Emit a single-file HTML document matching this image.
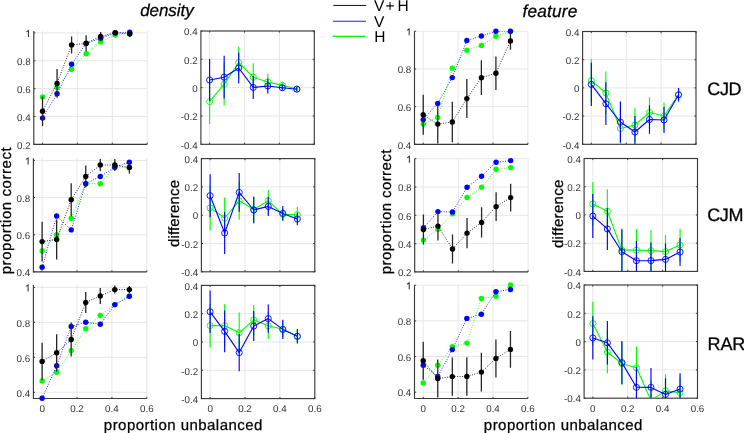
<!DOCTYPE html>
<html><head><meta charset="utf-8"><style>
html,body{margin:0;padding:0;background:#fff;}
svg{display:block;}
text{font-family:"Liberation Sans",sans-serif;text-rendering:geometricPrecision;}
svg{will-change:transform;}
.gr{stroke:#e6e6e6;stroke-width:1;}
.ax{stroke:#3a3a3a;stroke-width:1.15;fill:none;}
.tk{stroke:#3a3a3a;stroke-width:1;fill:none;}
.tl{font-size:9.8px;fill:#333;}
.lb{fill:#000;stroke:#000;stroke-width:0.25;}
.tt{fill:#000;font-style:italic;stroke:#000;stroke-width:0.25;}
.rl{fill:#000;stroke:#000;stroke-width:0.3;}
.one{fill:none;stroke:#333;stroke-width:1.05;stroke-linejoin:miter;}
.lg{font-size:15.5px;fill:#000;}
.dl{fill:none;stroke-width:0.9;stroke-dasharray:0.9 1.6;}
.eb{fill:none;stroke-width:1.3;}
.eb2{fill:none;stroke-width:1.15;}
.sl{fill:none;stroke-width:1.1;stroke-linejoin:round;}
.oc{stroke-width:0.9;}
</style></head>
<body><svg width="744" height="433" viewBox="0 0 744 433">
<defs><clipPath id="cC1R1"><rect x="33.8" y="31" width="113.4" height="113.3"/></clipPath><clipPath id="cC1R2"><rect x="33.4" y="158.3" width="113.4" height="113.6"/></clipPath><clipPath id="cC1R3"><rect x="33.4" y="285.1" width="113.4" height="113.4"/></clipPath><clipPath id="cC3R1"><rect x="414.5" y="31.3" width="113.4" height="113"/></clipPath><clipPath id="cC3R2"><rect x="414.7" y="158.7" width="113.4" height="113.2"/></clipPath><clipPath id="cC3R3"><rect x="414.5" y="285.2" width="113.4" height="113.3"/></clipPath><clipPath id="cC2R1"><rect x="200.9" y="31" width="113.4" height="113.3"/></clipPath><clipPath id="cC2R2"><rect x="201.4" y="158.6" width="113.4" height="113.2"/></clipPath><clipPath id="cC2R3"><rect x="201.4" y="285.4" width="113.4" height="113.2"/></clipPath><clipPath id="cC4R1"><rect x="582.6" y="31.5" width="113.4" height="112.8"/></clipPath><clipPath id="cC4R2"><rect x="584.1" y="158.5" width="113.4" height="112.9"/></clipPath><clipPath id="cC4R3"><rect x="584.1" y="285" width="113.4" height="113.2"/></clipPath></defs>
<rect width="744" height="433" fill="#fff"/>
<line x1="42.52" y1="31" x2="42.52" y2="144.3" class="gr"/>
<line x1="77.41" y1="31" x2="77.41" y2="144.3" class="gr"/>
<line x1="112.31" y1="31" x2="112.31" y2="144.3" class="gr"/>
<line x1="147.2" y1="31" x2="147.2" y2="144.3" class="gr"/>
<line x1="33.8" y1="144.3" x2="147.2" y2="144.3" class="gr"/>
<line x1="33.8" y1="116.45" x2="147.2" y2="116.45" class="gr"/>
<line x1="33.8" y1="88.6" x2="147.2" y2="88.6" class="gr"/>
<line x1="33.8" y1="60.75" x2="147.2" y2="60.75" class="gr"/>
<line x1="33.8" y1="32.9" x2="147.2" y2="32.9" class="gr"/>
<path d="M33.8 31V144.3H147.2" class="ax"/>
<path d="M33.8 144.3h1.6M33.8 116.45h1.6M33.8 88.6h1.6M33.8 60.75h1.6M33.8 32.9h1.6M42.52 144.3v-1.6M77.41 144.3v-1.6M112.31 144.3v-1.6M147.2 144.3v-1.6" class="tk"/>
<text x="30.6" y="148.5" class="tl" text-anchor="end">0.2</text>
<text x="30.6" y="120.65" class="tl" text-anchor="end">0.4</text>
<text x="30.6" y="92.8" class="tl" text-anchor="end">0.6</text>
<text x="30.6" y="64.95" class="tl" text-anchor="end">0.8</text>
<path d="M26.4 31.9L28.5 30.5V36.9" class="one"/>
<g clip-path="url(#cC1R1)"><polyline points="42.52,97 57.06,87.3 71.6,69.3 86.14,53.7 100.68,41.7 115.21,35 129.75,33.5" class="dl" stroke="#00ff00"/>
</g>
<circle cx="42.52" cy="97" r="2.7" fill="#00ff00"/>
<circle cx="57.06" cy="87.3" r="2.7" fill="#00ff00"/>
<circle cx="71.6" cy="69.3" r="2.7" fill="#00ff00"/>
<circle cx="86.14" cy="53.7" r="2.7" fill="#00ff00"/>
<circle cx="100.68" cy="41.7" r="2.7" fill="#00ff00"/>
<circle cx="115.21" cy="35" r="2.7" fill="#00ff00"/>
<circle cx="129.75" cy="33.5" r="2.7" fill="#00ff00"/>
<g clip-path="url(#cC1R1)"><polyline points="42.52,118.1 57.06,93.8 71.6,64.3 86.14,43.6 100.68,38.2 115.21,32.9 129.75,32.2" class="dl" stroke="#0000ff"/>
</g>
<circle cx="42.52" cy="118.1" r="2.7" fill="#0000ff"/>
<circle cx="57.06" cy="93.8" r="2.7" fill="#0000ff"/>
<circle cx="71.6" cy="64.3" r="2.7" fill="#0000ff"/>
<circle cx="86.14" cy="43.6" r="2.7" fill="#0000ff"/>
<circle cx="100.68" cy="38.2" r="2.7" fill="#0000ff"/>
<circle cx="115.21" cy="32.9" r="2.7" fill="#0000ff"/>
<circle cx="129.75" cy="32.2" r="2.7" fill="#0000ff"/>
<g clip-path="url(#cC1R1)"><polyline points="42.52,111.2 57.06,83.4 71.6,44.9 86.14,43.3 100.68,36.4 115.21,32.7 129.75,34" class="dl" stroke="#000000"/>
<path d="M42.52 96.4V126M57.06 69.1V97.7M71.6 36.4V53.4M86.14 35.3V51.3M100.68 32.1V40.7M115.21 31.2V34.2M129.75 31.2V36.8" class="eb" stroke="#262626"/>
</g>
<circle cx="42.52" cy="111.2" r="2.7" fill="#000000"/>
<circle cx="57.06" cy="83.4" r="2.7" fill="#000000"/>
<circle cx="71.6" cy="44.9" r="2.7" fill="#000000"/>
<circle cx="86.14" cy="43.3" r="2.7" fill="#000000"/>
<circle cx="100.68" cy="36.4" r="2.7" fill="#000000"/>
<circle cx="115.21" cy="32.7" r="2.7" fill="#000000"/>
<circle cx="129.75" cy="34" r="2.7" fill="#000000"/>
<line x1="42.12" y1="158.3" x2="42.12" y2="271.9" class="gr"/>
<line x1="77.02" y1="158.3" x2="77.02" y2="271.9" class="gr"/>
<line x1="111.91" y1="158.3" x2="111.91" y2="271.9" class="gr"/>
<line x1="146.8" y1="158.3" x2="146.8" y2="271.9" class="gr"/>
<line x1="33.4" y1="271.9" x2="146.8" y2="271.9" class="gr"/>
<line x1="33.4" y1="234.73" x2="146.8" y2="234.73" class="gr"/>
<line x1="33.4" y1="197.57" x2="146.8" y2="197.57" class="gr"/>
<line x1="33.4" y1="160.4" x2="146.8" y2="160.4" class="gr"/>
<path d="M33.4 158.3V271.9H146.8" class="ax"/>
<path d="M33.4 271.9h1.6M33.4 234.73h1.6M33.4 197.57h1.6M33.4 160.4h1.6M42.12 271.9v-1.6M77.02 271.9v-1.6M111.91 271.9v-1.6M146.8 271.9v-1.6" class="tk"/>
<text x="30.2" y="276.1" class="tl" text-anchor="end">0.4</text>
<text x="30.2" y="238.93" class="tl" text-anchor="end">0.6</text>
<text x="30.2" y="201.77" class="tl" text-anchor="end">0.8</text>
<path d="M26 159.4L28.1 158V164.4" class="one"/>
<g clip-path="url(#cC1R2)"><polyline points="42.12,251 56.66,234.7 71.2,218.3 85.74,183.7 100.28,183.7 114.81,167 129.35,167.5" class="dl" stroke="#00ff00"/>
</g>
<circle cx="42.12" cy="251" r="2.7" fill="#00ff00"/>
<circle cx="56.66" cy="234.7" r="2.7" fill="#00ff00"/>
<circle cx="71.2" cy="218.3" r="2.7" fill="#00ff00"/>
<circle cx="85.74" cy="183.7" r="2.7" fill="#00ff00"/>
<circle cx="100.28" cy="183.7" r="2.7" fill="#00ff00"/>
<circle cx="114.81" cy="167" r="2.7" fill="#00ff00"/>
<circle cx="129.35" cy="167.5" r="2.7" fill="#00ff00"/>
<g clip-path="url(#cC1R2)"><polyline points="42.12,267.3 56.66,216 71.2,229.9 85.74,183.7 100.28,176.5 114.81,167.2 129.35,162.2" class="dl" stroke="#0000ff"/>
</g>
<circle cx="42.12" cy="267.3" r="2.7" fill="#0000ff"/>
<circle cx="56.66" cy="216" r="2.7" fill="#0000ff"/>
<circle cx="71.2" cy="229.9" r="2.7" fill="#0000ff"/>
<circle cx="85.74" cy="183.7" r="2.7" fill="#0000ff"/>
<circle cx="100.28" cy="176.5" r="2.7" fill="#0000ff"/>
<circle cx="114.81" cy="167.2" r="2.7" fill="#0000ff"/>
<circle cx="129.35" cy="162.2" r="2.7" fill="#0000ff"/>
<g clip-path="url(#cC1R2)"><polyline points="42.12,241.6 56.66,239.5 71.2,199.8 85.74,176.5 100.28,165 114.81,165 129.35,167.5" class="dl" stroke="#000000"/>
<path d="M42.12 221.7V261.5M56.66 219.5V259.5M71.2 183.3V216.3M85.74 165.5V187.5M100.28 159V171M114.81 159.1V170.9M129.35 161.5V173.5" class="eb" stroke="#262626"/>
</g>
<circle cx="42.12" cy="241.6" r="2.7" fill="#000000"/>
<circle cx="56.66" cy="239.5" r="2.7" fill="#000000"/>
<circle cx="71.2" cy="199.8" r="2.7" fill="#000000"/>
<circle cx="85.74" cy="176.5" r="2.7" fill="#000000"/>
<circle cx="100.28" cy="165" r="2.7" fill="#000000"/>
<circle cx="114.81" cy="165" r="2.7" fill="#000000"/>
<circle cx="129.35" cy="167.5" r="2.7" fill="#000000"/>
<line x1="42.12" y1="285.1" x2="42.12" y2="398.5" class="gr"/>
<line x1="77.02" y1="285.1" x2="77.02" y2="398.5" class="gr"/>
<line x1="111.91" y1="285.1" x2="111.91" y2="398.5" class="gr"/>
<line x1="146.8" y1="285.1" x2="146.8" y2="398.5" class="gr"/>
<line x1="33.4" y1="392.3" x2="146.8" y2="392.3" class="gr"/>
<line x1="33.4" y1="357.33" x2="146.8" y2="357.33" class="gr"/>
<line x1="33.4" y1="322.37" x2="146.8" y2="322.37" class="gr"/>
<line x1="33.4" y1="287.4" x2="146.8" y2="287.4" class="gr"/>
<path d="M33.4 285.1V398.5H146.8" class="ax"/>
<path d="M33.4 392.3h1.6M33.4 357.33h1.6M33.4 322.37h1.6M33.4 287.4h1.6M42.12 398.5v-1.6M77.02 398.5v-1.6M111.91 398.5v-1.6M146.8 398.5v-1.6" class="tk"/>
<text x="30.2" y="396.5" class="tl" text-anchor="end">0.4</text>
<text x="30.2" y="361.53" class="tl" text-anchor="end">0.6</text>
<text x="30.2" y="326.57" class="tl" text-anchor="end">0.8</text>
<path d="M26 286.4L28.1 285V291.4" class="one"/>
<text x="42.12" y="411.8" class="tl" text-anchor="middle">0</text>
<text x="77.02" y="411.8" class="tl" text-anchor="middle">0.2</text>
<text x="111.91" y="411.8" class="tl" text-anchor="middle">0.4</text>
<text x="146.8" y="411.8" class="tl" text-anchor="middle">0.6</text>
<g clip-path="url(#cC1R3)"><polyline points="42.12,381 56.66,372.3 71.2,350.6 85.74,328.7 100.28,315.5 114.81,304.7 129.35,296.3" class="dl" stroke="#00ff00"/>
</g>
<circle cx="42.12" cy="381" r="2.7" fill="#00ff00"/>
<circle cx="56.66" cy="372.3" r="2.7" fill="#00ff00"/>
<circle cx="71.2" cy="350.6" r="2.7" fill="#00ff00"/>
<circle cx="85.74" cy="328.7" r="2.7" fill="#00ff00"/>
<circle cx="100.28" cy="315.5" r="2.7" fill="#00ff00"/>
<circle cx="114.81" cy="304.7" r="2.7" fill="#00ff00"/>
<circle cx="129.35" cy="296.3" r="2.7" fill="#00ff00"/>
<g clip-path="url(#cC1R3)"><polyline points="42.12,398.3 56.66,365.8 71.2,326.5 85.74,322.2 100.28,324.3 114.81,304.6 129.35,296.3" class="dl" stroke="#0000ff"/>
</g>
<circle cx="42.12" cy="398.3" r="2.7" fill="#0000ff"/>
<circle cx="56.66" cy="365.8" r="2.7" fill="#0000ff"/>
<circle cx="71.2" cy="326.5" r="2.7" fill="#0000ff"/>
<circle cx="85.74" cy="322.2" r="2.7" fill="#0000ff"/>
<circle cx="100.28" cy="324.3" r="2.7" fill="#0000ff"/>
<circle cx="114.81" cy="304.6" r="2.7" fill="#0000ff"/>
<circle cx="129.35" cy="296.3" r="2.7" fill="#0000ff"/>
<g clip-path="url(#cC1R3)"><polyline points="42.12,361.4 56.66,352.8 71.2,339.5 85.74,302.5 100.28,295.9 114.81,289.6 129.35,289.6" class="dl" stroke="#000000"/>
<path d="M42.12 342.7V380.1M56.66 334.2V371.4M71.2 322.5V356.5M85.74 291.9V313.1M100.28 287.9V303.9M114.81 285.6V293.6M129.35 286.1V293.1" class="eb" stroke="#262626"/>
</g>
<circle cx="42.12" cy="361.4" r="2.7" fill="#000000"/>
<circle cx="56.66" cy="352.8" r="2.7" fill="#000000"/>
<circle cx="71.2" cy="339.5" r="2.7" fill="#000000"/>
<circle cx="85.74" cy="302.5" r="2.7" fill="#000000"/>
<circle cx="100.28" cy="295.9" r="2.7" fill="#000000"/>
<circle cx="114.81" cy="289.6" r="2.7" fill="#000000"/>
<circle cx="129.35" cy="289.6" r="2.7" fill="#000000"/>
<line x1="423.22" y1="31.3" x2="423.22" y2="144.3" class="gr"/>
<line x1="458.12" y1="31.3" x2="458.12" y2="144.3" class="gr"/>
<line x1="493.01" y1="31.3" x2="493.01" y2="144.3" class="gr"/>
<line x1="527.9" y1="31.3" x2="527.9" y2="144.3" class="gr"/>
<line x1="414.5" y1="144.3" x2="527.9" y2="144.3" class="gr"/>
<line x1="414.5" y1="106.63" x2="527.9" y2="106.63" class="gr"/>
<line x1="414.5" y1="68.97" x2="527.9" y2="68.97" class="gr"/>
<line x1="414.5" y1="31.3" x2="527.9" y2="31.3" class="gr"/>
<path d="M414.5 31.3V144.3H527.9" class="ax"/>
<path d="M414.5 144.3h1.6M414.5 106.63h1.6M414.5 68.97h1.6M414.5 31.3h1.6M423.22 144.3v-1.6M458.12 144.3v-1.6M493.01 144.3v-1.6M527.9 144.3v-1.6" class="tk"/>
<text x="411.3" y="148.5" class="tl" text-anchor="end">0.4</text>
<text x="411.3" y="110.83" class="tl" text-anchor="end">0.6</text>
<text x="411.3" y="73.17" class="tl" text-anchor="end">0.8</text>
<path d="M407.1 30.3L409.2 28.9V35.3" class="one"/>
<g clip-path="url(#cC3R1)"><polyline points="423.22,124.1 437.76,117.5 452.3,68.3 466.84,50.2 481.38,45.4 495.91,36.2 510.45,31.5" class="dl" stroke="#00ff00"/>
</g>
<circle cx="423.22" cy="124.1" r="2.7" fill="#00ff00"/>
<circle cx="437.76" cy="117.5" r="2.7" fill="#00ff00"/>
<circle cx="452.3" cy="68.3" r="2.7" fill="#00ff00"/>
<circle cx="466.84" cy="50.2" r="2.7" fill="#00ff00"/>
<circle cx="481.38" cy="45.4" r="2.7" fill="#00ff00"/>
<circle cx="495.91" cy="36.2" r="2.7" fill="#00ff00"/>
<circle cx="510.45" cy="31.5" r="2.7" fill="#00ff00"/>
<g clip-path="url(#cC3R1)"><polyline points="423.22,119.6 437.76,103.4 452.3,77.6 466.84,40.5 481.38,36 495.91,31.3 510.45,31.2" class="dl" stroke="#0000ff"/>
</g>
<circle cx="423.22" cy="119.6" r="2.7" fill="#0000ff"/>
<circle cx="437.76" cy="103.4" r="2.7" fill="#0000ff"/>
<circle cx="452.3" cy="77.6" r="2.7" fill="#0000ff"/>
<circle cx="466.84" cy="40.5" r="2.7" fill="#0000ff"/>
<circle cx="481.38" cy="36" r="2.7" fill="#0000ff"/>
<circle cx="495.91" cy="31.3" r="2.7" fill="#0000ff"/>
<circle cx="510.45" cy="31.2" r="2.7" fill="#0000ff"/>
<g clip-path="url(#cC3R1)"><polyline points="423.22,114.8 437.76,124.1 452.3,122 466.84,98.6 481.38,77.7 495.91,73.2 510.45,40.9" class="dl" stroke="#000000"/>
<path d="M423.22 94.8V134.8M437.76 104.6V143.6M452.3 101.8V142.2M466.84 79.1V118.1M481.38 60.3V95.1M495.91 56.4V90M510.45 32V49.8" class="eb" stroke="#262626"/>
</g>
<circle cx="423.22" cy="114.8" r="2.7" fill="#000000"/>
<circle cx="437.76" cy="124.1" r="2.7" fill="#000000"/>
<circle cx="452.3" cy="122" r="2.7" fill="#000000"/>
<circle cx="466.84" cy="98.6" r="2.7" fill="#000000"/>
<circle cx="481.38" cy="77.7" r="2.7" fill="#000000"/>
<circle cx="495.91" cy="73.2" r="2.7" fill="#000000"/>
<circle cx="510.45" cy="40.9" r="2.7" fill="#000000"/>
<line x1="423.42" y1="158.7" x2="423.42" y2="271.9" class="gr"/>
<line x1="458.31" y1="158.7" x2="458.31" y2="271.9" class="gr"/>
<line x1="493.21" y1="158.7" x2="493.21" y2="271.9" class="gr"/>
<line x1="528.1" y1="158.7" x2="528.1" y2="271.9" class="gr"/>
<line x1="414.7" y1="271.9" x2="528.1" y2="271.9" class="gr"/>
<line x1="414.7" y1="243.6" x2="528.1" y2="243.6" class="gr"/>
<line x1="414.7" y1="215.3" x2="528.1" y2="215.3" class="gr"/>
<line x1="414.7" y1="187" x2="528.1" y2="187" class="gr"/>
<line x1="414.7" y1="158.7" x2="528.1" y2="158.7" class="gr"/>
<path d="M414.7 158.7V271.9H528.1" class="ax"/>
<path d="M414.7 271.9h1.6M414.7 243.6h1.6M414.7 215.3h1.6M414.7 187h1.6M414.7 158.7h1.6M423.42 271.9v-1.6M458.31 271.9v-1.6M493.21 271.9v-1.6M528.1 271.9v-1.6" class="tk"/>
<text x="411.5" y="276.1" class="tl" text-anchor="end">0.2</text>
<text x="411.5" y="247.8" class="tl" text-anchor="end">0.4</text>
<text x="411.5" y="219.5" class="tl" text-anchor="end">0.6</text>
<text x="411.5" y="191.2" class="tl" text-anchor="end">0.8</text>
<path d="M407.3 157.7L409.4 156.3V162.7" class="one"/>
<g clip-path="url(#cC3R2)"><polyline points="423.42,240.1 437.96,229.3 452.5,213.7 467.04,197.4 481.58,187.3 496.11,169.2 510.65,167.6" class="dl" stroke="#00ff00"/>
</g>
<circle cx="423.42" cy="240.1" r="2.7" fill="#00ff00"/>
<circle cx="437.96" cy="229.3" r="2.7" fill="#00ff00"/>
<circle cx="452.5" cy="213.7" r="2.7" fill="#00ff00"/>
<circle cx="467.04" cy="197.4" r="2.7" fill="#00ff00"/>
<circle cx="481.58" cy="187.3" r="2.7" fill="#00ff00"/>
<circle cx="496.11" cy="169.2" r="2.7" fill="#00ff00"/>
<circle cx="510.65" cy="167.6" r="2.7" fill="#00ff00"/>
<g clip-path="url(#cC3R2)"><polyline points="423.42,227.8 437.96,211.6 452.5,212 467.04,187.3 481.58,176.2 496.11,162.2 510.65,160.6" class="dl" stroke="#0000ff"/>
</g>
<circle cx="423.42" cy="227.8" r="2.7" fill="#0000ff"/>
<circle cx="437.96" cy="211.6" r="2.7" fill="#0000ff"/>
<circle cx="452.5" cy="212" r="2.7" fill="#0000ff"/>
<circle cx="467.04" cy="187.3" r="2.7" fill="#0000ff"/>
<circle cx="481.58" cy="176.2" r="2.7" fill="#0000ff"/>
<circle cx="496.11" cy="162.2" r="2.7" fill="#0000ff"/>
<circle cx="510.65" cy="160.6" r="2.7" fill="#0000ff"/>
<g clip-path="url(#cC3R2)"><polyline points="423.42,229.5 437.96,226.1 452.5,249 467.04,233.1 481.58,222.4 496.11,206.6 510.65,197.6" class="dl" stroke="#000000"/>
<path d="M423.42 214.5V244.5M437.96 211.6V240.6M452.5 234.5V263.5M467.04 218V248.2M481.58 207.2V237.6M496.11 192.2V221M510.65 183.8V211.4" class="eb" stroke="#262626"/>
</g>
<circle cx="423.42" cy="229.5" r="2.7" fill="#000000"/>
<circle cx="437.96" cy="226.1" r="2.7" fill="#000000"/>
<circle cx="452.5" cy="249" r="2.7" fill="#000000"/>
<circle cx="467.04" cy="233.1" r="2.7" fill="#000000"/>
<circle cx="481.58" cy="222.4" r="2.7" fill="#000000"/>
<circle cx="496.11" cy="206.6" r="2.7" fill="#000000"/>
<circle cx="510.65" cy="197.6" r="2.7" fill="#000000"/>
<line x1="423.22" y1="285.2" x2="423.22" y2="398.5" class="gr"/>
<line x1="458.12" y1="285.2" x2="458.12" y2="398.5" class="gr"/>
<line x1="493.01" y1="285.2" x2="493.01" y2="398.5" class="gr"/>
<line x1="527.9" y1="285.2" x2="527.9" y2="398.5" class="gr"/>
<line x1="414.5" y1="392.2" x2="527.9" y2="392.2" class="gr"/>
<line x1="414.5" y1="356.53" x2="527.9" y2="356.53" class="gr"/>
<line x1="414.5" y1="320.87" x2="527.9" y2="320.87" class="gr"/>
<line x1="414.5" y1="285.2" x2="527.9" y2="285.2" class="gr"/>
<path d="M414.5 285.2V398.5H527.9" class="ax"/>
<path d="M414.5 392.2h1.6M414.5 356.53h1.6M414.5 320.87h1.6M414.5 285.2h1.6M423.22 398.5v-1.6M458.12 398.5v-1.6M493.01 398.5v-1.6M527.9 398.5v-1.6" class="tk"/>
<text x="411.3" y="396.4" class="tl" text-anchor="end">0.4</text>
<text x="411.3" y="360.73" class="tl" text-anchor="end">0.6</text>
<text x="411.3" y="325.07" class="tl" text-anchor="end">0.8</text>
<path d="M407.1 284.2L409.2 282.8V289.2" class="one"/>
<text x="423.22" y="411.8" class="tl" text-anchor="middle">0</text>
<text x="458.12" y="411.8" class="tl" text-anchor="middle">0.2</text>
<text x="493.01" y="411.8" class="tl" text-anchor="middle">0.4</text>
<text x="527.9" y="411.8" class="tl" text-anchor="middle">0.6</text>
<g clip-path="url(#cC3R3)"><polyline points="423.22,383 437.76,365.3 452.3,346.8 466.84,343.1 481.38,298.5 495.91,296.2 510.45,285" class="dl" stroke="#00ff00"/>
</g>
<circle cx="423.22" cy="383" r="2.7" fill="#00ff00"/>
<circle cx="437.76" cy="365.3" r="2.7" fill="#00ff00"/>
<circle cx="452.3" cy="346.8" r="2.7" fill="#00ff00"/>
<circle cx="466.84" cy="343.1" r="2.7" fill="#00ff00"/>
<circle cx="481.38" cy="298.5" r="2.7" fill="#00ff00"/>
<circle cx="495.91" cy="296.2" r="2.7" fill="#00ff00"/>
<circle cx="510.45" cy="285" r="2.7" fill="#00ff00"/>
<g clip-path="url(#cC3R3)"><polyline points="423.22,365.3 437.76,376.5 452.3,349.6 466.84,318.4 481.38,314.2 495.91,291.7 510.45,289.5" class="dl" stroke="#0000ff"/>
</g>
<circle cx="423.22" cy="365.3" r="2.7" fill="#0000ff"/>
<circle cx="437.76" cy="376.5" r="2.7" fill="#0000ff"/>
<circle cx="452.3" cy="349.6" r="2.7" fill="#0000ff"/>
<circle cx="466.84" cy="318.4" r="2.7" fill="#0000ff"/>
<circle cx="481.38" cy="314.2" r="2.7" fill="#0000ff"/>
<circle cx="495.91" cy="291.7" r="2.7" fill="#0000ff"/>
<circle cx="510.45" cy="289.5" r="2.7" fill="#0000ff"/>
<g clip-path="url(#cC3R3)"><polyline points="423.22,360.8 437.76,378.6 452.3,376.6 466.84,376.5 481.38,372.1 495.91,358.4 510.45,349.4" class="dl" stroke="#000000"/>
<path d="M423.22 341.8V379.8M437.76 359.6V397.6M452.3 357.4V395.8M466.84 357.3V395.7M481.38 352.7V391.5M495.91 339.4V377.4M510.45 331V367.8" class="eb" stroke="#262626"/>
</g>
<circle cx="423.22" cy="360.8" r="2.7" fill="#000000"/>
<circle cx="437.76" cy="378.6" r="2.7" fill="#000000"/>
<circle cx="452.3" cy="376.6" r="2.7" fill="#000000"/>
<circle cx="466.84" cy="376.5" r="2.7" fill="#000000"/>
<circle cx="481.38" cy="372.1" r="2.7" fill="#000000"/>
<circle cx="495.91" cy="358.4" r="2.7" fill="#000000"/>
<circle cx="510.45" cy="349.4" r="2.7" fill="#000000"/>
<line x1="209.62" y1="31" x2="209.62" y2="144.3" class="gr"/>
<line x1="244.52" y1="31" x2="244.52" y2="144.3" class="gr"/>
<line x1="279.41" y1="31" x2="279.41" y2="144.3" class="gr"/>
<line x1="200.9" y1="115.98" x2="314.3" y2="115.98" class="gr"/>
<line x1="200.9" y1="87.65" x2="314.3" y2="87.65" class="gr"/>
<line x1="200.9" y1="59.33" x2="314.3" y2="59.33" class="gr"/>
<rect x="200.9" y="31" width="113.4" height="113.3" class="ax"/>
<path d="M200.9 144.3h1.6M314.3 144.3h-1.6M200.9 115.98h1.6M314.3 115.98h-1.6M200.9 87.65h1.6M314.3 87.65h-1.6M200.9 59.33h1.6M314.3 59.33h-1.6M200.9 31h1.6M314.3 31h-1.6M209.62 144.3v-1.6M209.62 31v1.6M244.52 144.3v-1.6M244.52 31v1.6M279.41 144.3v-1.6M279.41 31v1.6M314.3 144.3v-1.6M314.3 31v1.6" class="tk"/>
<text x="197.7" y="148.5" class="tl" text-anchor="end">-0.4</text>
<text x="197.7" y="120.18" class="tl" text-anchor="end">-0.2</text>
<text x="197.7" y="91.85" class="tl" text-anchor="end">0</text>
<text x="197.7" y="63.53" class="tl" text-anchor="end">0.2</text>
<text x="197.7" y="35.2" class="tl" text-anchor="end">0.4</text>
<g clip-path="url(#cC2R1)"><path d="M209.62 79.1V124.1M224.16 62.8V105.6M238.7 46.7V78.3M253.24 63.2V91.2M267.78 73.6V90.6M282.31 82.8V87.8M296.85 87V91" class="eb2" stroke="#00ff00"/><polyline points="209.62,101.6 224.16,84.2 238.7,62.5 253.24,77.2 267.78,82.1 282.31,85.3 296.85,89" class="sl" stroke="#00ff00"/></g>
<circle cx="209.62" cy="101.6" r="3.05" fill="none" stroke="#00ff00" class="oc"/>
<circle cx="224.16" cy="84.2" r="3.05" fill="none" stroke="#00ff00" class="oc"/>
<circle cx="238.7" cy="62.5" r="3.05" fill="none" stroke="#00ff00" class="oc"/>
<circle cx="253.24" cy="77.2" r="3.05" fill="none" stroke="#00ff00" class="oc"/>
<circle cx="267.78" cy="82.1" r="3.05" fill="none" stroke="#00ff00" class="oc"/>
<circle cx="282.31" cy="85.3" r="3.05" fill="none" stroke="#00ff00" class="oc"/>
<circle cx="296.85" cy="89" r="3.05" fill="none" stroke="#00ff00" class="oc"/>
<g clip-path="url(#cC2R1)"><path d="M209.62 59V101M224.16 55.8V98.6M238.7 52.4V83.6M253.24 75.9V98.9M267.78 78.6V93.4M282.31 84.9V90.5M296.85 87V91.4" class="eb2" stroke="#0000ff"/><polyline points="209.62,80 224.16,77.2 238.7,68 253.24,87.4 267.78,86 282.31,87.7 296.85,89.2" class="sl" stroke="#0000ff"/></g>
<circle cx="209.62" cy="80" r="3.05" fill="none" stroke="#0000ff" class="oc"/>
<circle cx="224.16" cy="77.2" r="3.05" fill="none" stroke="#0000ff" class="oc"/>
<circle cx="238.7" cy="68" r="3.05" fill="none" stroke="#0000ff" class="oc"/>
<circle cx="253.24" cy="87.4" r="3.05" fill="none" stroke="#0000ff" class="oc"/>
<circle cx="267.78" cy="86" r="3.05" fill="none" stroke="#0000ff" class="oc"/>
<circle cx="282.31" cy="87.7" r="3.05" fill="none" stroke="#0000ff" class="oc"/>
<circle cx="296.85" cy="89.2" r="3.05" fill="none" stroke="#0000ff" class="oc"/>
<line x1="210.12" y1="158.6" x2="210.12" y2="271.8" class="gr"/>
<line x1="245.02" y1="158.6" x2="245.02" y2="271.8" class="gr"/>
<line x1="279.91" y1="158.6" x2="279.91" y2="271.8" class="gr"/>
<line x1="201.4" y1="243.5" x2="314.8" y2="243.5" class="gr"/>
<line x1="201.4" y1="215.2" x2="314.8" y2="215.2" class="gr"/>
<line x1="201.4" y1="186.9" x2="314.8" y2="186.9" class="gr"/>
<rect x="201.4" y="158.6" width="113.4" height="113.2" class="ax"/>
<path d="M201.4 271.8h1.6M314.8 271.8h-1.6M201.4 243.5h1.6M314.8 243.5h-1.6M201.4 215.2h1.6M314.8 215.2h-1.6M201.4 186.9h1.6M314.8 186.9h-1.6M201.4 158.6h1.6M314.8 158.6h-1.6M210.12 271.8v-1.6M210.12 158.6v1.6M245.02 271.8v-1.6M245.02 158.6v1.6M279.91 271.8v-1.6M279.91 158.6v1.6M314.8 271.8v-1.6M314.8 158.6v1.6" class="tk"/>
<text x="198.2" y="276" class="tl" text-anchor="end">-0.4</text>
<text x="198.2" y="247.7" class="tl" text-anchor="end">-0.2</text>
<text x="198.2" y="219.4" class="tl" text-anchor="end">0</text>
<text x="198.2" y="191.1" class="tl" text-anchor="end">0.2</text>
<text x="198.2" y="162.8" class="tl" text-anchor="end">0.4</text>
<g clip-path="url(#cC2R2)"><path d="M210.12 185.6V230.2M224.66 197.5V238.5M239.2 181.6V219.8M253.74 196.5V222.5M268.28 190V211.6M282.81 208.4V220.4M297.35 207V222.6" class="eb2" stroke="#00ff00"/><polyline points="210.12,207.9 224.66,218 239.2,200.7 253.74,209.5 268.28,200.8 282.81,214.4 297.35,214.8" class="sl" stroke="#00ff00"/></g>
<circle cx="210.12" cy="207.9" r="3.05" fill="none" stroke="#00ff00" class="oc"/>
<circle cx="224.66" cy="218" r="3.05" fill="none" stroke="#00ff00" class="oc"/>
<circle cx="239.2" cy="200.7" r="3.05" fill="none" stroke="#00ff00" class="oc"/>
<circle cx="253.74" cy="209.5" r="3.05" fill="none" stroke="#00ff00" class="oc"/>
<circle cx="268.28" cy="200.8" r="3.05" fill="none" stroke="#00ff00" class="oc"/>
<circle cx="282.81" cy="214.4" r="3.05" fill="none" stroke="#00ff00" class="oc"/>
<circle cx="297.35" cy="214.8" r="3.05" fill="none" stroke="#00ff00" class="oc"/>
<g clip-path="url(#cC2R2)"><path d="M210.12 174.2V217.2M224.66 212.1V253.9M239.2 173.1V211.7M253.74 196.7V223.3M268.28 196.7V216.1M282.81 206V220.8M297.35 212.7V225.3" class="eb2" stroke="#0000ff"/><polyline points="210.12,195.7 224.66,233 239.2,192.4 253.74,210 268.28,206.4 282.81,213.4 297.35,219" class="sl" stroke="#0000ff"/></g>
<circle cx="210.12" cy="195.7" r="3.05" fill="none" stroke="#0000ff" class="oc"/>
<circle cx="224.66" cy="233" r="3.05" fill="none" stroke="#0000ff" class="oc"/>
<circle cx="239.2" cy="192.4" r="3.05" fill="none" stroke="#0000ff" class="oc"/>
<circle cx="253.74" cy="210" r="3.05" fill="none" stroke="#0000ff" class="oc"/>
<circle cx="268.28" cy="206.4" r="3.05" fill="none" stroke="#0000ff" class="oc"/>
<circle cx="282.81" cy="213.4" r="3.05" fill="none" stroke="#0000ff" class="oc"/>
<circle cx="297.35" cy="219" r="3.05" fill="none" stroke="#0000ff" class="oc"/>
<line x1="210.12" y1="285.4" x2="210.12" y2="398.6" class="gr"/>
<line x1="245.02" y1="285.4" x2="245.02" y2="398.6" class="gr"/>
<line x1="279.91" y1="285.4" x2="279.91" y2="398.6" class="gr"/>
<line x1="201.4" y1="370.3" x2="314.8" y2="370.3" class="gr"/>
<line x1="201.4" y1="342" x2="314.8" y2="342" class="gr"/>
<line x1="201.4" y1="313.7" x2="314.8" y2="313.7" class="gr"/>
<rect x="201.4" y="285.4" width="113.4" height="113.2" class="ax"/>
<path d="M201.4 398.6h1.6M314.8 398.6h-1.6M201.4 370.3h1.6M314.8 370.3h-1.6M201.4 342h1.6M314.8 342h-1.6M201.4 313.7h1.6M314.8 313.7h-1.6M201.4 285.4h1.6M314.8 285.4h-1.6M210.12 398.6v-1.6M210.12 285.4v1.6M245.02 398.6v-1.6M245.02 285.4v1.6M279.91 398.6v-1.6M279.91 285.4v1.6M314.8 398.6v-1.6M314.8 285.4v1.6" class="tk"/>
<text x="198.2" y="402.8" class="tl" text-anchor="end">-0.4</text>
<text x="198.2" y="374.5" class="tl" text-anchor="end">-0.2</text>
<text x="198.2" y="346.2" class="tl" text-anchor="end">0</text>
<text x="198.2" y="317.9" class="tl" text-anchor="end">0.2</text>
<text x="198.2" y="289.6" class="tl" text-anchor="end">0.4</text>
<text x="210.12" y="411.9" class="tl" text-anchor="middle">0</text>
<text x="245.02" y="411.9" class="tl" text-anchor="middle">0.2</text>
<text x="279.91" y="411.9" class="tl" text-anchor="middle">0.4</text>
<text x="314.8" y="411.9" class="tl" text-anchor="middle">0.6</text>
<g clip-path="url(#cC2R3)"><path d="M210.12 303.7V347.5M224.66 304.3V346.9M239.2 312.4V353.2M253.74 305.1V334.9M268.28 312.3V339.3M282.81 321.3V337.3M297.35 330.3V342.3" class="eb2" stroke="#00ff00"/><polyline points="210.12,325.6 224.66,325.6 239.2,332.8 253.74,320 268.28,325.8 282.81,329.3 297.35,336.3" class="sl" stroke="#00ff00"/></g>
<circle cx="210.12" cy="325.6" r="3.05" fill="none" stroke="#00ff00" class="oc"/>
<circle cx="224.66" cy="325.6" r="3.05" fill="none" stroke="#00ff00" class="oc"/>
<circle cx="239.2" cy="332.8" r="3.05" fill="none" stroke="#00ff00" class="oc"/>
<circle cx="253.74" cy="320" r="3.05" fill="none" stroke="#00ff00" class="oc"/>
<circle cx="268.28" cy="325.8" r="3.05" fill="none" stroke="#00ff00" class="oc"/>
<circle cx="282.81" cy="329.3" r="3.05" fill="none" stroke="#00ff00" class="oc"/>
<circle cx="297.35" cy="336.3" r="3.05" fill="none" stroke="#00ff00" class="oc"/>
<g clip-path="url(#cC2R3)"><path d="M210.12 290.6V333M224.66 310.6V352.2M239.2 334V371.2M253.74 311V341M268.28 304.4V332.8M282.81 319.7V339.1M297.35 329.1V343.5" class="eb2" stroke="#0000ff"/><polyline points="210.12,311.8 224.66,331.4 239.2,352.6 253.74,326 268.28,318.6 282.81,329.4 297.35,336.3" class="sl" stroke="#0000ff"/></g>
<circle cx="210.12" cy="311.8" r="3.05" fill="none" stroke="#0000ff" class="oc"/>
<circle cx="224.66" cy="331.4" r="3.05" fill="none" stroke="#0000ff" class="oc"/>
<circle cx="239.2" cy="352.6" r="3.05" fill="none" stroke="#0000ff" class="oc"/>
<circle cx="253.74" cy="326" r="3.05" fill="none" stroke="#0000ff" class="oc"/>
<circle cx="268.28" cy="318.6" r="3.05" fill="none" stroke="#0000ff" class="oc"/>
<circle cx="282.81" cy="329.4" r="3.05" fill="none" stroke="#0000ff" class="oc"/>
<circle cx="297.35" cy="336.3" r="3.05" fill="none" stroke="#0000ff" class="oc"/>
<line x1="591.32" y1="31.5" x2="591.32" y2="144.3" class="gr"/>
<line x1="626.22" y1="31.5" x2="626.22" y2="144.3" class="gr"/>
<line x1="661.11" y1="31.5" x2="661.11" y2="144.3" class="gr"/>
<line x1="582.6" y1="116.1" x2="696" y2="116.1" class="gr"/>
<line x1="582.6" y1="87.9" x2="696" y2="87.9" class="gr"/>
<line x1="582.6" y1="59.7" x2="696" y2="59.7" class="gr"/>
<rect x="582.6" y="31.5" width="113.4" height="112.8" class="ax"/>
<path d="M582.6 144.3h1.6M696 144.3h-1.6M582.6 116.1h1.6M696 116.1h-1.6M582.6 87.9h1.6M696 87.9h-1.6M582.6 59.7h1.6M696 59.7h-1.6M582.6 31.5h1.6M696 31.5h-1.6M591.32 144.3v-1.6M591.32 31.5v1.6M626.22 144.3v-1.6M626.22 31.5v1.6M661.11 144.3v-1.6M661.11 31.5v1.6M696 144.3v-1.6M696 31.5v1.6" class="tk"/>
<text x="579.4" y="148.5" class="tl" text-anchor="end">-0.4</text>
<text x="579.4" y="120.3" class="tl" text-anchor="end">-0.2</text>
<text x="579.4" y="92.1" class="tl" text-anchor="end">0</text>
<text x="579.4" y="63.9" class="tl" text-anchor="end">0.2</text>
<text x="579.4" y="35.7" class="tl" text-anchor="end">0.4</text>
<g clip-path="url(#cC4R1)"><path d="M591.32 59.1V102.3M605.86 71.5V114.5M620.4 108.5V148.5M634.94 108V142M649.48 97.2V127.8M664.01 102.6V129.4M678.55 88.8V100.8" class="eb2" stroke="#00ff00"/><polyline points="591.32,80.7 605.86,93 620.4,128.5 634.94,125 649.48,112.5 664.01,116 678.55,94.8" class="sl" stroke="#00ff00"/></g>
<circle cx="591.32" cy="80.7" r="3.05" fill="none" stroke="#00ff00" class="oc"/>
<circle cx="605.86" cy="93" r="3.05" fill="none" stroke="#00ff00" class="oc"/>
<circle cx="620.4" cy="128.5" r="3.05" fill="none" stroke="#00ff00" class="oc"/>
<circle cx="634.94" cy="125" r="3.05" fill="none" stroke="#00ff00" class="oc"/>
<circle cx="649.48" cy="112.5" r="3.05" fill="none" stroke="#00ff00" class="oc"/>
<circle cx="664.01" cy="116" r="3.05" fill="none" stroke="#00ff00" class="oc"/>
<circle cx="678.55" cy="94.8" r="3.05" fill="none" stroke="#00ff00" class="oc"/>
<g clip-path="url(#cC4R1)"><path d="M591.32 62.8V106M605.86 82.3V125.1M620.4 101.4V142.6M634.94 116V148M649.48 105.2V133.8M664.01 106.9V133.1M678.55 88V101.6" class="eb2" stroke="#0000ff"/><polyline points="591.32,84.4 605.86,103.7 620.4,122 634.94,132 649.48,119.5 664.01,120 678.55,94.8" class="sl" stroke="#0000ff"/></g>
<circle cx="591.32" cy="84.4" r="3.05" fill="none" stroke="#0000ff" class="oc"/>
<circle cx="605.86" cy="103.7" r="3.05" fill="none" stroke="#0000ff" class="oc"/>
<circle cx="620.4" cy="122" r="3.05" fill="none" stroke="#0000ff" class="oc"/>
<circle cx="634.94" cy="132" r="3.05" fill="none" stroke="#0000ff" class="oc"/>
<circle cx="649.48" cy="119.5" r="3.05" fill="none" stroke="#0000ff" class="oc"/>
<circle cx="664.01" cy="120" r="3.05" fill="none" stroke="#0000ff" class="oc"/>
<circle cx="678.55" cy="94.8" r="3.05" fill="none" stroke="#0000ff" class="oc"/>
<line x1="592.82" y1="158.5" x2="592.82" y2="271.4" class="gr"/>
<line x1="627.72" y1="158.5" x2="627.72" y2="271.4" class="gr"/>
<line x1="662.61" y1="158.5" x2="662.61" y2="271.4" class="gr"/>
<line x1="584.1" y1="243.17" x2="697.5" y2="243.17" class="gr"/>
<line x1="584.1" y1="214.95" x2="697.5" y2="214.95" class="gr"/>
<line x1="584.1" y1="186.72" x2="697.5" y2="186.72" class="gr"/>
<rect x="584.1" y="158.5" width="113.4" height="112.9" class="ax"/>
<path d="M584.1 271.4h1.6M697.5 271.4h-1.6M584.1 243.17h1.6M697.5 243.17h-1.6M584.1 214.95h1.6M697.5 214.95h-1.6M584.1 186.72h1.6M697.5 186.72h-1.6M584.1 158.5h1.6M697.5 158.5h-1.6M592.82 271.4v-1.6M592.82 158.5v1.6M627.72 271.4v-1.6M627.72 158.5v1.6M662.61 271.4v-1.6M662.61 158.5v1.6M697.5 271.4v-1.6M697.5 158.5v1.6" class="tk"/>
<text x="580.9" y="275.6" class="tl" text-anchor="end">-0.4</text>
<text x="580.9" y="247.37" class="tl" text-anchor="end">-0.2</text>
<text x="580.9" y="219.15" class="tl" text-anchor="end">0</text>
<text x="580.9" y="190.92" class="tl" text-anchor="end">0.2</text>
<text x="580.9" y="162.7" class="tl" text-anchor="end">0.4</text>
<g clip-path="url(#cC4R2)"><path d="M592.82 182.1V225.7M607.36 189.4V233M621.9 228.5V271.7M636.44 228.9V271.3M650.98 230V271.2M665.51 235.1V268.1M680.05 229V261" class="eb2" stroke="#00ff00"/><polyline points="592.82,203.9 607.36,211.2 621.9,250.1 636.44,250.1 650.98,250.6 665.51,251.6 680.05,245" class="sl" stroke="#00ff00"/></g>
<circle cx="592.82" cy="203.9" r="3.05" fill="none" stroke="#00ff00" class="oc"/>
<circle cx="607.36" cy="211.2" r="3.05" fill="none" stroke="#00ff00" class="oc"/>
<circle cx="621.9" cy="250.1" r="3.05" fill="none" stroke="#00ff00" class="oc"/>
<circle cx="636.44" cy="250.1" r="3.05" fill="none" stroke="#00ff00" class="oc"/>
<circle cx="650.98" cy="250.6" r="3.05" fill="none" stroke="#00ff00" class="oc"/>
<circle cx="665.51" cy="251.6" r="3.05" fill="none" stroke="#00ff00" class="oc"/>
<circle cx="680.05" cy="245" r="3.05" fill="none" stroke="#00ff00" class="oc"/>
<g clip-path="url(#cC4R2)"><path d="M592.82 194.1V238.1M607.36 207.9V249.9M621.9 229.4V274M636.44 240.9V280.5M650.98 242.4V278.8M665.51 243.5V275.3M680.05 238V266" class="eb2" stroke="#0000ff"/><polyline points="592.82,216.1 607.36,228.9 621.9,251.7 636.44,260.7 650.98,260.6 665.51,259.4 680.05,252" class="sl" stroke="#0000ff"/></g>
<circle cx="592.82" cy="216.1" r="3.05" fill="none" stroke="#0000ff" class="oc"/>
<circle cx="607.36" cy="228.9" r="3.05" fill="none" stroke="#0000ff" class="oc"/>
<circle cx="621.9" cy="251.7" r="3.05" fill="none" stroke="#0000ff" class="oc"/>
<circle cx="636.44" cy="260.7" r="3.05" fill="none" stroke="#0000ff" class="oc"/>
<circle cx="650.98" cy="260.6" r="3.05" fill="none" stroke="#0000ff" class="oc"/>
<circle cx="665.51" cy="259.4" r="3.05" fill="none" stroke="#0000ff" class="oc"/>
<circle cx="680.05" cy="252" r="3.05" fill="none" stroke="#0000ff" class="oc"/>
<line x1="592.82" y1="285" x2="592.82" y2="398.2" class="gr"/>
<line x1="627.72" y1="285" x2="627.72" y2="398.2" class="gr"/>
<line x1="662.61" y1="285" x2="662.61" y2="398.2" class="gr"/>
<line x1="584.1" y1="369.9" x2="697.5" y2="369.9" class="gr"/>
<line x1="584.1" y1="341.6" x2="697.5" y2="341.6" class="gr"/>
<line x1="584.1" y1="313.3" x2="697.5" y2="313.3" class="gr"/>
<rect x="584.1" y="285" width="113.4" height="113.2" class="ax"/>
<path d="M584.1 398.2h1.6M697.5 398.2h-1.6M584.1 369.9h1.6M697.5 369.9h-1.6M584.1 341.6h1.6M697.5 341.6h-1.6M584.1 313.3h1.6M697.5 313.3h-1.6M584.1 285h1.6M697.5 285h-1.6M592.82 398.2v-1.6M592.82 285v1.6M627.72 398.2v-1.6M627.72 285v1.6M662.61 398.2v-1.6M662.61 285v1.6M697.5 398.2v-1.6M697.5 285v1.6" class="tk"/>
<text x="580.9" y="402.4" class="tl" text-anchor="end">-0.4</text>
<text x="580.9" y="374.1" class="tl" text-anchor="end">-0.2</text>
<text x="580.9" y="345.8" class="tl" text-anchor="end">0</text>
<text x="580.9" y="317.5" class="tl" text-anchor="end">0.2</text>
<text x="580.9" y="289.2" class="tl" text-anchor="end">0.4</text>
<text x="592.82" y="411.5" class="tl" text-anchor="middle">0</text>
<text x="627.72" y="411.5" class="tl" text-anchor="middle">0.2</text>
<text x="662.61" y="411.5" class="tl" text-anchor="middle">0.4</text>
<text x="697.5" y="411.5" class="tl" text-anchor="middle">0.6</text>
<g clip-path="url(#cC4R3)"><path d="M592.82 301.8V345.4M607.36 330.8V373.2M621.9 342.3V385.3M636.44 346.5V389.1M650.98 380.5V420.5M665.51 374.2V407.6M680.05 376.8V408.8" class="eb2" stroke="#00ff00"/><polyline points="592.82,323.6 607.36,352 621.9,363.8 636.44,367.8 650.98,400.5 665.51,390.9 680.05,392.8" class="sl" stroke="#00ff00"/></g>
<circle cx="592.82" cy="323.6" r="3.05" fill="none" stroke="#00ff00" class="oc"/>
<circle cx="607.36" cy="352" r="3.05" fill="none" stroke="#00ff00" class="oc"/>
<circle cx="621.9" cy="363.8" r="3.05" fill="none" stroke="#00ff00" class="oc"/>
<circle cx="636.44" cy="367.8" r="3.05" fill="none" stroke="#00ff00" class="oc"/>
<circle cx="665.51" cy="390.9" r="3.05" fill="none" stroke="#00ff00" class="oc"/>
<circle cx="680.05" cy="392.8" r="3.05" fill="none" stroke="#00ff00" class="oc"/>
<g clip-path="url(#cC4R3)"><path d="M592.82 316.2V359.6M607.36 321V364.6M621.9 341.1V384.1M636.44 366.9V407.7M650.98 368.1V406.7M665.51 378.2V410.8M680.05 373.3V404.9" class="eb2" stroke="#0000ff"/><polyline points="592.82,337.9 607.36,342.8 621.9,362.6 636.44,387.3 650.98,387.4 665.51,394.5 680.05,389.1" class="sl" stroke="#0000ff"/></g>
<circle cx="592.82" cy="337.9" r="3.05" fill="none" stroke="#0000ff" class="oc"/>
<circle cx="607.36" cy="342.8" r="3.05" fill="none" stroke="#0000ff" class="oc"/>
<circle cx="621.9" cy="362.6" r="3.05" fill="none" stroke="#0000ff" class="oc"/>
<circle cx="636.44" cy="387.3" r="3.05" fill="none" stroke="#0000ff" class="oc"/>
<circle cx="650.98" cy="387.4" r="3.05" fill="none" stroke="#0000ff" class="oc"/>
<circle cx="665.51" cy="394.5" r="3.05" fill="none" stroke="#0000ff" class="oc"/>
<circle cx="680.05" cy="389.1" r="3.05" fill="none" stroke="#0000ff" class="oc"/>
<text transform="translate(10.9,274.25) rotate(-90)" x="0" y="0" class="lb" font-size="15" textLength="126.87" lengthAdjust="spacing">proportion correct</text>
<text transform="translate(390.7,274.23) rotate(-90)" x="0" y="0" class="lb" font-size="15" textLength="124.54" lengthAdjust="spacing">proportion correct</text>
<text transform="translate(179,247.01) rotate(-90)" x="0" y="0" class="lb" font-size="15" textLength="66.99" lengthAdjust="spacing">difference</text>
<text transform="translate(562.8,248.03) rotate(-90)" x="0" y="0" class="lb" font-size="15" textLength="68.41" lengthAdjust="spacing">difference</text>
<text x="103.86" y="429.9" class="lb" font-size="15" textLength="158.52" lengthAdjust="spacing">proportion unbalanced</text>
<text x="483.86" y="429.9" class="lb" font-size="15" textLength="158.52" lengthAdjust="spacing">proportion unbalanced</text>
<text x="140.21" y="16" class="tt" font-size="17" textLength="53.43" lengthAdjust="spacing">density</text>
<text x="522.48" y="16.6" class="tt" font-size="17.3" textLength="54.78" lengthAdjust="spacing">feature</text>
<text x="707.32" y="95.2" class="rl" font-size="18" textLength="34.14" lengthAdjust="spacing">CJD</text>
<text x="707.32" y="220.9" class="rl" font-size="18" textLength="36.07" lengthAdjust="spacing">CJM</text>
<text x="707.47" y="350" class="rl" font-size="18" textLength="37.86" lengthAdjust="spacing">RAR</text>
<path d="M333.4 5.45H366.2" stroke="#111" stroke-width="1"/>
<path d="M332.9 21.2H366" stroke="#2020ff" stroke-width="1.1"/>
<path d="M332.5 36.4H365.5" stroke="#00ee00" stroke-width="1.1"/>
<text x="373.9" y="11.1" class="lg">V</text>
<text x="385.6" y="10.6" class="lg">+</text>
<text x="397.4" y="11.1" class="lg">H</text>
<text x="374.1" y="26.7" class="lg">V</text>
<text x="374.2" y="41.5" class="lg">H</text>
</svg></body></html>
